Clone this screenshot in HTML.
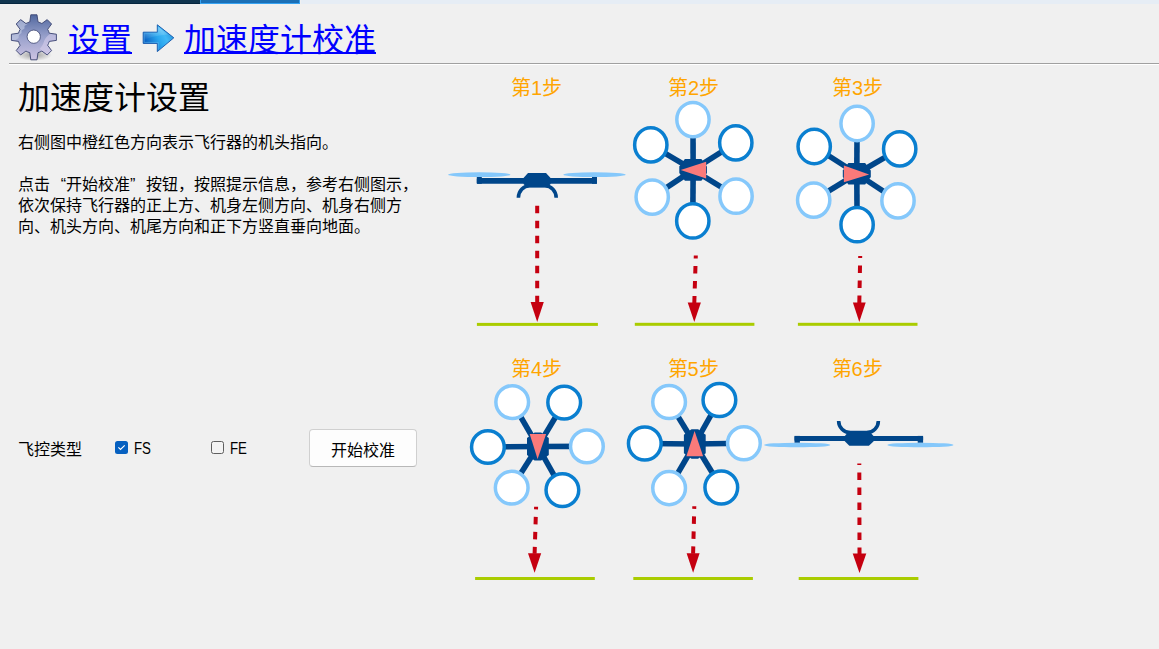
<!DOCTYPE html>
<html lang="zh-CN"><head><meta charset="utf-8">
<style>
html,body{margin:0;padding:0;}
body{width:1159px;height:649px;overflow:hidden;background:#f0f0f0;position:relative;font-family:"Liberation Sans",sans-serif;color:#000;}
.a{position:absolute;white-space:nowrap;}
#bar1{left:0;top:0;width:200px;height:3px;background:#11354f;border-bottom:1px solid #06263f;}
#bar2{left:200px;top:0;width:98px;height:3px;background:#1a6fb6;border:1px solid #35a2f2;border-top:0;}
#bar3{left:301px;top:0;width:858px;height:4px;background:#e6edf5;}
.lnk{color:#0000ff;font-size:32px;line-height:40px;}
.ul{background:#0000ff;height:2px;top:52px;}
#hr{left:9px;top:63px;width:1150px;height:1px;background:#a0a0a0;border-bottom:1px solid #fff;}
#h1{left:18px;top:77.5px;font-size:32px;line-height:40px;}
.p1{left:18px;font-size:16px;line-height:21px;}
.ql{display:inline-block;width:16px;text-align:right;}
.qr{display:inline-block;width:16px;text-align:left;}
.lbl{color:#ffa500;font-size:20px;line-height:24px;}
</style></head><body>
<div id="bar1" class="a"></div><div id="bar2" class="a"></div><div id="bar3" class="a"></div>

<svg class="a" style="left:0;top:0" width="70" height="70" viewBox="0 0 70 70">
<defs>
<linearGradient id="gg" x1="0" y1="0" x2="0" y2="1">
<stop offset="0" stop-color="#51689f"/><stop offset="0.5" stop-color="#9aa2cc"/><stop offset="1" stop-color="#cdc3e3"/>
</linearGradient>
<radialGradient id="gs" cx="0.5" cy="0.5" r="0.5"><stop offset="0" stop-color="#000" stop-opacity="0.35"/><stop offset="1" stop-color="#000" stop-opacity="0"/></radialGradient>
<clipPath id="gc"><path d="M29.80 21.94 L30.80 14.80 L37.00 14.80 L38.00 21.94 A15.9 15.9 0 0 1 41.86 23.54 L47.19 19.62 L51.58 24.01 L47.66 29.34 A15.9 15.9 0 0 1 49.26 33.20 L56.40 34.20 L56.40 40.40 L49.26 41.40 A15.9 15.9 0 0 1 47.66 45.26 L51.58 50.59 L47.19 54.98 L41.86 51.06 A15.9 15.9 0 0 1 38.00 52.66 L37.00 59.80 L30.80 59.80 L29.80 52.66 A15.9 15.9 0 0 1 25.94 51.06 L20.61 54.98 L16.22 50.59 L20.14 45.26 A15.9 15.9 0 0 1 18.54 41.40 L11.40 40.40 L11.40 34.20 L18.54 33.20 A15.9 15.9 0 0 1 20.14 29.34 L16.22 24.01 L20.61 19.62 L25.94 23.54 A15.9 15.9 0 0 1 29.80 21.94 Z"/></clipPath></defs>
<ellipse cx="34" cy="55" rx="18" ry="6" fill="url(#gs)"/>
<path fill="url(#gg)" stroke="none" stroke-width="0.9" stroke-linejoin="round" d="M29.80 21.94 L30.80 14.80 L37.00 14.80 L38.00 21.94 A15.9 15.9 0 0 1 41.86 23.54 L47.19 19.62 L51.58 24.01 L47.66 29.34 A15.9 15.9 0 0 1 49.26 33.20 L56.40 34.20 L56.40 40.40 L49.26 41.40 A15.9 15.9 0 0 1 47.66 45.26 L51.58 50.59 L47.19 54.98 L41.86 51.06 A15.9 15.9 0 0 1 38.00 52.66 L37.00 59.80 L30.80 59.80 L29.80 52.66 A15.9 15.9 0 0 1 25.94 51.06 L20.61 54.98 L16.22 50.59 L20.14 45.26 A15.9 15.9 0 0 1 18.54 41.40 L11.40 40.40 L11.40 34.20 L18.54 33.20 A15.9 15.9 0 0 1 20.14 29.34 L16.22 24.01 L20.61 19.62 L25.94 23.54 A15.9 15.9 0 0 1 29.80 21.94 Z"/><g clip-path="url(#gc)"><path d="M8 14 L27 14 L28.5 19 L27 21.5 L27.5 24 L24.5 26 L24.5 28.5 L21.5 30.5 L21.5 33 L19 35 L18.5 38 L15 40.5 L8 41 Z" fill="#c6cee6" opacity="0.6"/><path d="M60 31 C51 31 45 37 43.5 43 L42 46 L40 48.5 L42 52 L60 60 Z" fill="#d8d0ec" opacity="0.55"/></g><path fill="none" stroke="#3b4470" stroke-width="0.9" stroke-linejoin="round" d="M29.80 21.94 L30.80 14.80 L37.00 14.80 L38.00 21.94 A15.9 15.9 0 0 1 41.86 23.54 L47.19 19.62 L51.58 24.01 L47.66 29.34 A15.9 15.9 0 0 1 49.26 33.20 L56.40 34.20 L56.40 40.40 L49.26 41.40 A15.9 15.9 0 0 1 47.66 45.26 L51.58 50.59 L47.19 54.98 L41.86 51.06 A15.9 15.9 0 0 1 38.00 52.66 L37.00 59.80 L30.80 59.80 L29.80 52.66 A15.9 15.9 0 0 1 25.94 51.06 L20.61 54.98 L16.22 50.59 L20.14 45.26 A15.9 15.9 0 0 1 18.54 41.40 L11.40 40.40 L11.40 34.20 L18.54 33.20 A15.9 15.9 0 0 1 20.14 29.34 L16.22 24.01 L20.61 19.62 L25.94 23.54 A15.9 15.9 0 0 1 29.80 21.94 Z"/>
<circle cx="33.75" cy="36.7" r="6.65" fill="#fff" stroke="#3b4470" stroke-width="0.8"/>
</svg>

<div class="a lnk" style="left:68px;top:19.5px">设置</div><div class="a ul" style="left:68px;width:64px"></div>
<svg class="a" style="left:138px;top:20px" width="42" height="36" viewBox="138 20 42 36">
<defs><linearGradient id="ag" gradientUnits="userSpaceOnUse" x1="143" y1="44" x2="168" y2="30"><stop offset="0" stop-color="#0350b8"/><stop offset="0.55" stop-color="#2aa6ee"/><stop offset="0.8" stop-color="#40b8f6"/><stop offset="1" stop-color="#2e9fe4"/></linearGradient>
<linearGradient id="ah" x1="0" y1="0" x2="0" y2="1"><stop offset="0" stop-color="#fff" stop-opacity="0.35"/><stop offset="1" stop-color="#fff" stop-opacity="0"/></linearGradient></defs>
<path d="M143.2 32.2 H157.3 V24.8 L173.8 37.8 L157.3 51.6 V43.4 H143.2 Z" fill="url(#ag)" stroke="#1c5fb0" stroke-width="1" stroke-linejoin="round"/>
<path d="M144.2 33.2 H158.2 V26.8 L168 34.5 C160 35 150 37 144.2 40 Z" fill="url(#ah)"/>
<path d="M144.2 33.2 H158.3 V26.9 M158.3 49.6 V42.4 H144.2 V33.2" fill="none" stroke="#6cc4f6" stroke-width="0.8" opacity="0.6"/>
</svg>
<div class="a lnk" style="left:184px;top:19.5px">加速度计校准</div><div class="a ul" style="left:184px;width:192px"></div>
<div id="hr" class="a"></div>

<div id="h1" class="a">加速度计设置</div>
<div class="a p1" style="top:132px">右侧图中橙红色方向表示飞行器的机头指向。</div>
<div class="a p1" style="top:174px">点击<span class="ql">“</span>开始校准<span class="qr">”</span>按钮，按照提示信息，参考右侧图示，</div>
<div class="a p1" style="top:195px">依次保持飞行器的正上方、机身左侧方向、机身右侧方</div>
<div class="a p1" style="top:216px">向、机头方向、机尾方向和正下方竖直垂向地面。</div>

<div class="a" style="left:18px;top:439px;font-size:16px;line-height:21px">飞控类型</div>
<div class="a" style="left:115px;top:441px;width:13px;height:13px;background:#0660c0;border-radius:2.5px"></div>
<svg class="a" style="left:115px;top:441px" width="13" height="13"><path d="M3.4 6.4 L5.5 8.5 L9.7 4.3" fill="none" stroke="#fff" stroke-width="1.15"/></svg>
<div class="a" style="left:133.5px;top:438px;font-size:16px;line-height:21px;transform:scaleX(0.83);transform-origin:0 0">FS</div>
<div class="a" style="left:211px;top:441px;width:11px;height:11px;border:1px solid #5f5f5f;border-radius:2.5px;background:#f3f3f3"></div>
<div class="a" style="left:229.5px;top:438px;font-size:16px;line-height:21px;transform:scaleX(0.83);transform-origin:0 0">FE</div>
<div class="a" style="left:309px;top:429px;width:106px;height:36px;border:1px solid #d0d0d0;border-bottom-color:#b8b8b8;border-radius:4px;background:#fdfdfd"></div>
<div class="a" style="left:331px;top:440px;font-size:16px;line-height:21px">开始校准</div>

<div class="a lbl" style="left:511px;top:76px">第1步</div>
<div class="a lbl" style="left:668px;top:76px">第2步</div>
<div class="a lbl" style="left:832px;top:76px">第3步</div>
<div class="a lbl" style="left:511px;top:357px">第4步</div>
<div class="a lbl" style="left:667.5px;top:357px">第5步</div>
<div class="a lbl" style="left:831.5px;top:357px">第6步</div>

<svg id="drones" class="a" style="left:0;top:0" width="1159" height="649" viewBox="0 0 1159 649">
<rect x="476.8" y="177.9" width="120.19999999999999" height="5.900000000000006" rx="1" fill="#00468a"/>
<rect x="476.8" y="176.3" width="5" height="7.5" fill="#00468a"/>
<rect x="592" y="176.3" width="5" height="7.5" fill="#00468a"/>
<ellipse cx="479.3" cy="174.7" rx="31.2" ry="2.4" fill="#85c8fb"/>
<ellipse cx="594.5" cy="174.7" rx="31.2" ry="2.4" fill="#85c8fb"/>
<polygon points="528,173.1 546,173.1 550.6,178 550.6,184 547.5,187.3 527,187.3 523.5,184 523.5,178" fill="#00468a"/>
<path d="M518.4 197.8 A11.3 12 0 0 1 529.7 185.8 L544.9 185.8 A11.3 12 0 0 1 556.2 197.8" fill="none" stroke="#00468a" stroke-width="3.6"/>
<rect x="794.5" y="435.9" width="128.60000000000002" height="5.0" rx="1" fill="#00468a"/>
<rect x="794.5" y="435.9" width="5.4" height="6.900000000000034" fill="#00468a"/>
<rect x="917.7" y="435.9" width="5.4" height="6.900000000000034" fill="#00468a"/>
<ellipse cx="797.2" cy="445.0" rx="33.1" ry="2.3" fill="#85c8fb"/>
<ellipse cx="920.4" cy="445.0" rx="33.1" ry="2.3" fill="#85c8fb"/>
<polygon points="848.3,431.8 869.8,431.8 873.3,435.8 873.9,440.9 868.9,445.8 849.3,445.8 844.6,440.9 845.1,435.8" fill="#00468a"/>
<path d="M838.65 420.9 A11.7 11.7 0 0 0 850.35 432.6 L866.65 432.6 A11.7 11.7 0 0 0 878.35 420.9" fill="none" stroke="#00468a" stroke-width="3.6"/>
<line x1="693.15" y1="169.85" x2="692.96" y2="119.55" stroke="#00468a" stroke-width="5.6"/>
<line x1="693.15" y1="169.85" x2="735.8" y2="142.85" stroke="#00468a" stroke-width="5.6"/>
<line x1="693.15" y1="169.85" x2="736.05" y2="196.2" stroke="#00468a" stroke-width="5.6"/>
<line x1="693.15" y1="169.85" x2="692.8" y2="220.95" stroke="#00468a" stroke-width="5.6"/>
<line x1="693.15" y1="169.85" x2="652.2" y2="197.05" stroke="#00468a" stroke-width="5.6"/>
<line x1="693.15" y1="169.85" x2="650.8" y2="144.9" stroke="#00468a" stroke-width="5.6"/>
<ellipse cx="692.96" cy="119.55" rx="16.15" ry="17.15" fill="#fff" stroke="#85c8fb" stroke-width="3.5"/>
<ellipse cx="735.8" cy="142.85" rx="16.15" ry="17.15" fill="#fff" stroke="#0a7fd0" stroke-width="3.5"/>
<ellipse cx="736.05" cy="196.2" rx="16.15" ry="17.15" fill="#fff" stroke="#85c8fb" stroke-width="3.5"/>
<ellipse cx="692.8" cy="220.95" rx="16.15" ry="17.15" fill="#fff" stroke="#0a7fd0" stroke-width="3.5"/>
<ellipse cx="652.2" cy="197.05" rx="16.15" ry="17.15" fill="#fff" stroke="#85c8fb" stroke-width="3.5"/>
<ellipse cx="650.8" cy="144.9" rx="16.15" ry="17.15" fill="#fff" stroke="#0a7fd0" stroke-width="3.5"/>
<polygon points="684.9,159.0 701.4,159.0 707.0,166.6 707.0,173.1 701.4,180.7 684.9,180.7 679.3,173.1 679.3,166.6" fill="#00468a"/>
<polygon points="680.7,170 706.1,161.7 706.1,178.4" fill="#fa7a7a"/>
<line x1="856.8" y1="173.75" x2="857.1" y2="123.5" stroke="#00468a" stroke-width="5.6"/>
<line x1="856.8" y1="173.75" x2="899.7" y2="148.9" stroke="#00468a" stroke-width="5.6"/>
<line x1="856.8" y1="173.75" x2="898" y2="200.8" stroke="#00468a" stroke-width="5.6"/>
<line x1="856.8" y1="173.75" x2="857.1" y2="224.7" stroke="#00468a" stroke-width="5.6"/>
<line x1="856.8" y1="173.75" x2="813.7" y2="200.1" stroke="#00468a" stroke-width="5.6"/>
<line x1="856.8" y1="173.75" x2="814.2" y2="146.5" stroke="#00468a" stroke-width="5.6"/>
<ellipse cx="857.1" cy="123.5" rx="16.15" ry="17.15" fill="#fff" stroke="#85c8fb" stroke-width="3.5"/>
<ellipse cx="899.7" cy="148.9" rx="16.15" ry="17.15" fill="#fff" stroke="#0a7fd0" stroke-width="3.5"/>
<ellipse cx="898" cy="200.8" rx="16.15" ry="17.15" fill="#fff" stroke="#85c8fb" stroke-width="3.5"/>
<ellipse cx="857.1" cy="224.7" rx="16.15" ry="17.15" fill="#fff" stroke="#0a7fd0" stroke-width="3.5"/>
<ellipse cx="813.7" cy="200.1" rx="16.15" ry="17.15" fill="#fff" stroke="#85c8fb" stroke-width="3.5"/>
<ellipse cx="814.2" cy="146.5" rx="16.15" ry="17.15" fill="#fff" stroke="#0a7fd0" stroke-width="3.5"/>
<polygon points="848.4,162.9 865.1,162.9 870.8,170.5 870.8,177.0 865.1,184.6 848.4,184.6 842.8,177.0 842.8,170.5" fill="#00468a"/>
<polygon points="843.9,165.6 843.9,182.3 869.1,174.4" fill="#fa7a7a"/>
<line x1="537.9" y1="446.5" x2="512.2" y2="402.1" stroke="#00468a" stroke-width="5.6"/>
<line x1="537.9" y1="446.5" x2="564.2" y2="402.6" stroke="#00468a" stroke-width="5.6"/>
<line x1="537.9" y1="446.5" x2="586.9" y2="446.4" stroke="#00468a" stroke-width="5.6"/>
<line x1="537.9" y1="446.5" x2="562.4" y2="490.1" stroke="#00468a" stroke-width="5.6"/>
<line x1="537.9" y1="446.5" x2="511.7" y2="487.7" stroke="#00468a" stroke-width="5.6"/>
<line x1="537.9" y1="446.5" x2="487.9" y2="447" stroke="#00468a" stroke-width="5.6"/>
<ellipse cx="512.2" cy="402.1" rx="16.35" ry="16.35" fill="#fff" stroke="#85c8fb" stroke-width="3.5"/>
<ellipse cx="564.2" cy="402.6" rx="16.35" ry="16.35" fill="#fff" stroke="#0a7fd0" stroke-width="3.5"/>
<ellipse cx="586.9" cy="446.4" rx="16.35" ry="16.35" fill="#fff" stroke="#85c8fb" stroke-width="3.5"/>
<ellipse cx="562.4" cy="490.1" rx="16.35" ry="16.35" fill="#fff" stroke="#0a7fd0" stroke-width="3.5"/>
<ellipse cx="511.7" cy="487.7" rx="16.35" ry="16.35" fill="#fff" stroke="#85c8fb" stroke-width="3.5"/>
<ellipse cx="487.9" cy="447" rx="16.35" ry="16.35" fill="#fff" stroke="#0a7fd0" stroke-width="3.5"/>
<polygon points="534.6,432.4 541.1,432.4 548.8,438.0 548.8,455.0 541.1,460.6 534.6,460.6 527.0,455.0 527.0,438.0" fill="#00468a"/>
<polygon points="529.7,434.1 546.1,434.1 537.6,459" fill="#fa7a7a"/>
<line x1="694.8" y1="444" x2="669.1" y2="402" stroke="#00468a" stroke-width="5.6"/>
<line x1="694.8" y1="444" x2="719.4" y2="400" stroke="#00468a" stroke-width="5.6"/>
<line x1="694.8" y1="444" x2="743.9" y2="443.2" stroke="#00468a" stroke-width="5.6"/>
<line x1="694.8" y1="444" x2="721.3" y2="487.5" stroke="#00468a" stroke-width="5.6"/>
<line x1="694.8" y1="444" x2="669.1" y2="488.1" stroke="#00468a" stroke-width="5.6"/>
<line x1="694.8" y1="444" x2="644.8" y2="443.5" stroke="#00468a" stroke-width="5.6"/>
<ellipse cx="669.1" cy="402" rx="16.35" ry="16.55" fill="#fff" stroke="#85c8fb" stroke-width="3.5"/>
<ellipse cx="719.4" cy="400" rx="16.35" ry="16.55" fill="#fff" stroke="#0a7fd0" stroke-width="3.5"/>
<ellipse cx="743.9" cy="443.2" rx="16.35" ry="16.55" fill="#fff" stroke="#85c8fb" stroke-width="3.5"/>
<ellipse cx="721.3" cy="487.5" rx="16.35" ry="16.55" fill="#fff" stroke="#0a7fd0" stroke-width="3.5"/>
<ellipse cx="669.1" cy="488.1" rx="16.35" ry="16.55" fill="#fff" stroke="#85c8fb" stroke-width="3.5"/>
<ellipse cx="644.8" cy="443.5" rx="16.35" ry="16.55" fill="#fff" stroke="#0a7fd0" stroke-width="3.5"/>
<polygon points="691.5,429.2 698.1,429.2 705.7,434.8 705.7,453.2 698.1,458.8 691.5,458.8 683.9,453.2 683.9,434.8" fill="#00468a"/>
<polygon points="694.6,431.1 703.1,456.3 686.4,456.3" fill="#fa7a7a"/>
<line x1="537.2" y1="205.8" x2="537.2" y2="302.6" stroke="#c50010" stroke-width="4" stroke-dasharray="7.5 7.5" stroke-dashoffset="0"/>
<polygon points="530.6,302.1 543.8000000000001,302.1 537.2,322.09999999999997" fill="#c50010"/>
<line x1="695.8" y1="255.5" x2="694.3" y2="303" stroke="#c50010" stroke-width="4" stroke-dasharray="7.5 7.5" stroke-dashoffset="4.5"/>
<polygon points="687.6999999999999,302.5 700.9,302.5 694.3,321.9" fill="#c50010"/>
<line x1="860.2" y1="256" x2="859.3" y2="303" stroke="#c50010" stroke-width="4" stroke-dasharray="7.5 7.5" stroke-dashoffset="5.5"/>
<polygon points="852.9,302.5 865.6999999999999,302.5 859.3,321.9" fill="#c50010"/>
<line x1="536.1" y1="506.7" x2="534.6" y2="553.7" stroke="#c50010" stroke-width="4" stroke-dasharray="7.5 7.5" stroke-dashoffset="4.8"/>
<polygon points="528.0,553.2 541.2,553.2 534.6,572.8" fill="#c50010"/>
<line x1="694.3" y1="506.2" x2="693.1" y2="553.7" stroke="#c50010" stroke-width="4" stroke-dasharray="7.5 7.5" stroke-dashoffset="4.8"/>
<polygon points="686.6,553.2 699.6,553.2 693.1,572.8" fill="#c50010"/>
<line x1="859.3" y1="463.4" x2="859.5" y2="554.1" stroke="#c50010" stroke-width="4" stroke-dasharray="7.5 7.5" stroke-dashoffset="5.8"/>
<polygon points="852.7,553.6 866.3,553.6 859.5,572.9" fill="#c50010"/>
<rect x="476.9" y="322.9" width="121.0" height="3" fill="#aacc00"/>
<rect x="634.8" y="322.8" width="119.60000000000002" height="3" fill="#aacc00"/>
<rect x="797.9" y="322.8" width="119.60000000000002" height="3" fill="#aacc00"/>
<rect x="475.1" y="577" width="119.69999999999993" height="3" fill="#aacc00"/>
<rect x="633.3" y="577" width="119.60000000000002" height="3" fill="#aacc00"/>
<rect x="798.7" y="577" width="119.69999999999993" height="3" fill="#aacc00"/>
</svg>
</body></html>
